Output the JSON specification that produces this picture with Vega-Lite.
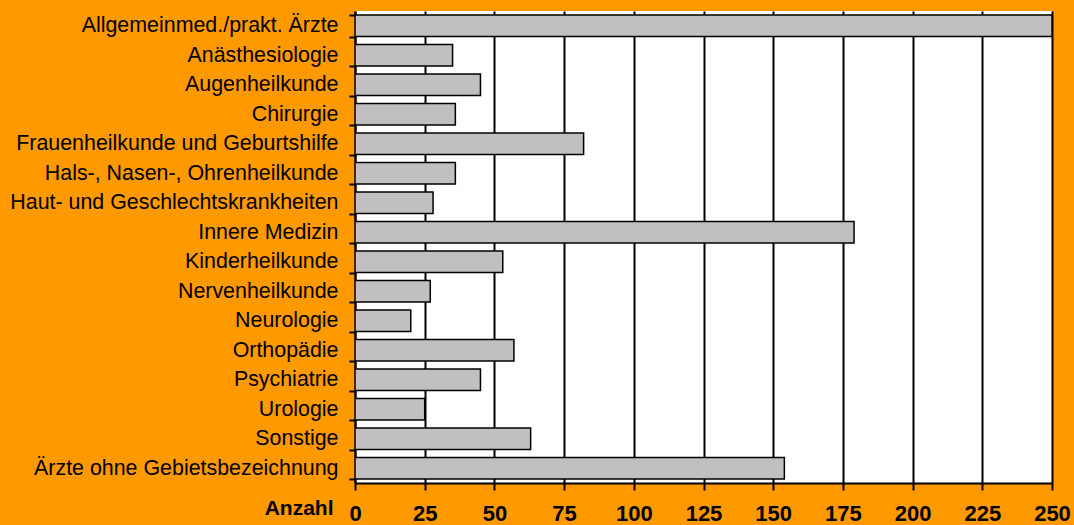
{
  "$schema": "https://vega.github.io/schema/vega-lite/v6.json",
  "width": 697,
  "height": 472,
  "autosize": {"type": "none"},
  "padding": {"left": 355, "top": 11, "right": 22, "bottom": 42},
  "background": "#FF9900",
  "view": {"fill": "#FFFFFF", "stroke": null},
  "data": {
    "values": [
      {"Fachgebiet": "Allgemeinmed./prakt. Ärzte", "Anzahl": 250},
      {"Fachgebiet": "Anästhesiologie", "Anzahl": 35},
      {"Fachgebiet": "Augenheilkunde", "Anzahl": 45},
      {"Fachgebiet": "Chirurgie", "Anzahl": 36},
      {"Fachgebiet": "Frauenheilkunde und Geburtshilfe", "Anzahl": 82},
      {"Fachgebiet": "Hals-, Nasen-, Ohrenheilkunde", "Anzahl": 36},
      {"Fachgebiet": "Haut- und Geschlechtskrankheiten", "Anzahl": 28},
      {"Fachgebiet": "Innere Medizin", "Anzahl": 179},
      {"Fachgebiet": "Kinderheilkunde", "Anzahl": 53},
      {"Fachgebiet": "Nervenheilkunde", "Anzahl": 27},
      {"Fachgebiet": "Neurologie", "Anzahl": 20},
      {"Fachgebiet": "Orthopädie", "Anzahl": 57},
      {"Fachgebiet": "Psychiatrie", "Anzahl": 45},
      {"Fachgebiet": "Urologie", "Anzahl": 25},
      {"Fachgebiet": "Sonstige", "Anzahl": 63},
      {"Fachgebiet": "Ärzte ohne Gebietsbezeichnung", "Anzahl": 154}
    ]
  },
  "mark": {"type": "bar", "fill": "#C0C0C0", "stroke": "#000000", "strokeWidth": 1.5, "clip": true},
  "encoding": {
    "y": {
      "field": "Fachgebiet",
      "type": "nominal",
      "sort": null,
      "scale": {"paddingInner": 0.27, "paddingOuter": 0.135},
      "axis": {
        "title": null,
        "tickBand": "extent",
        "grid": false,
        "domainColor": "#000000",
        "domainWidth": 2,
        "tickColor": "#000000",
        "tickWidth": 2,
        "tickSize": 6,
        "labelPadding": 11,
        "labelFont": "Liberation Sans",
        "labelFontSize": 21.4,
        "labelColor": "#000000",
        "labelLimit": 400
      }
    },
    "x": {
      "field": "Anzahl",
      "type": "quantitative",
      "scale": {"domain": [0, 250], "nice": false},
      "axis": {
        "title": "Anzahl",
        "values": [0, 25, 50, 75, 100, 125, 150, 175, 200, 225, 250],
        "grid": true,
        "gridColor": "#000000",
        "gridWidth": 2,
        "gridOpacity": 1,
        "domainColor": "#000000",
        "domainWidth": 2,
        "tickColor": "#000000",
        "tickWidth": 2,
        "tickSize": 7,
        "labelPadding": 23,
        "labelFont": "Liberation Sans",
        "labelFontSize": 22,
        "labelFontWeight": "bold",
        "labelColor": "#000000",
        "labelBaseline": "middle",
        "labelFlush": false,
        "titleFont": "Liberation Sans",
        "titleFontSize": 21,
        "titleFontWeight": "bold",
        "titleColor": "#000000",
        "titleAnchor": "start",
        "titleAlign": "right",
        "titleBaseline": "middle",
        "titleX": -22,
        "titleY": 25
      }
    }
  }
}
